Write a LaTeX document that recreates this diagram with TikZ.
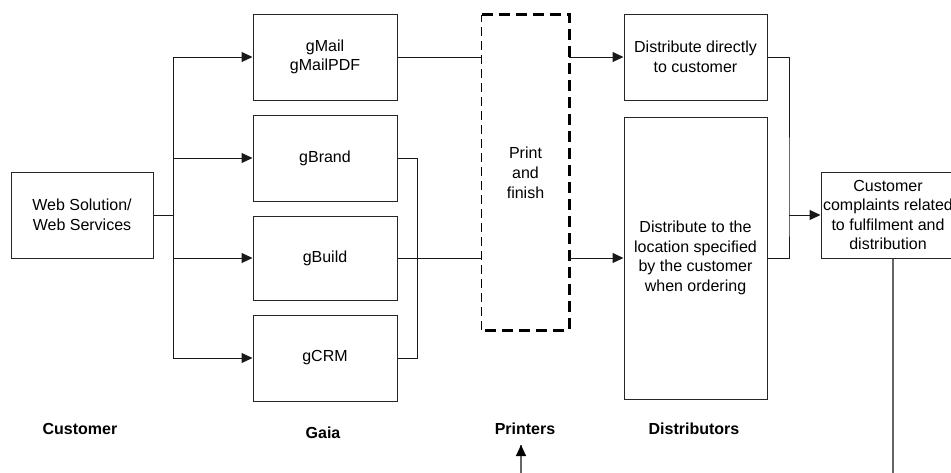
\documentclass[tikz,border=0pt]{standalone}
\usepackage{fontspec}
\setmainfont{Liberation Sans}
\usetikzlibrary{arrows.meta}

\begin{document}
\begin{tikzpicture}[x=1pt,y=-1pt,
  boxnode/.style={draw=black!85, line width=1pt, align=center, inner sep=0pt,
    font=\fontsize{16}{19.5}\selectfont},
  lbl/.style={font=\bfseries\fontsize{16}{19}\selectfont, inner sep=0pt},
  conn/.style={line width=1pt, draw=black!90},
  arr/.style={conn, -{Triangle[length=11pt,width=10pt]}},
  farconn/.style={line width=1.2pt, draw=black!60}
]
\useasboundingbox (0,0) rectangle (951,472);

% boxes
\node[boxnode, minimum width=142pt, minimum height=86pt] (web) at (82,215) {Web Solution/\\Web Services};
\node[boxnode, minimum width=144pt, minimum height=86pt] (gmail) at (325,57) {gMail\\gMailPDF};
\node[boxnode, minimum width=144pt, minimum height=86pt] (gbrand) at (325,158) {gBrand};
\node[boxnode, minimum width=144pt, minimum height=84pt] (gbuild) at (325,258) {gBuild};
\node[boxnode, minimum width=144pt, minimum height=86pt] (gcrm) at (325,358) {gCRM};
\node[align=center, inner sep=0pt, minimum width=87pt, minimum height=315pt,
      font=\fontsize{16}{20}\selectfont] (print) at (525.5,172.5) {Print\\and\\finish};
\draw[line width=3.2pt, dash pattern=on 11pt off 6pt]
  (print.north west) -- (print.north east) -- (print.south east) -- (print.south west);
\draw[line width=1.3pt, dash pattern=on 9pt off 5pt] (print.south west) -- (print.north west);
\node[boxnode, minimum width=143pt, minimum height=86pt] (dist1) at (695.5,57) {Distribute directly\\to customer};
\node[boxnode, minimum width=143pt, minimum height=282pt] (dist2) at (695.5,258) {Distribute to the\\location specified\\by the customer\\when ordering};
\node[boxnode, minimum width=134pt, minimum height=86pt] (compl) at (888,215) {Customer\\complaints related\\to fulfilment and\\distribution};

% labels
\node[lbl] (lcust) at (80,429) {Customer};
\node[lbl] (lgaia) at (323,433) {Gaia};
\node[lbl] (lprint) at (525,429) {Printers};
\node[lbl] (ldist) at (694,429) {Distributors};

% connectors
\coordinate (bus) at (173,215);
\draw[conn] (web.east) -- (bus);
\draw[arr] (bus) |- (gmail.west);
\draw[arr] (bus) |- (gbrand.west);
\draw[arr] (bus) |- (gbuild.west);
\draw[arr] (bus) |- (gcrm.west);

\coordinate (jB) at (417,158);
\draw[conn] (gbrand.east) -- (jB) |- (gcrm.east);

\draw[conn] (gmail.east) -- (gmail.east -| print.west);
\draw[conn] (gbuild.east) -- (gbuild.east -| print.west);

\draw[arr] (print.east |- dist1.west) -- (dist1.west);
\draw[arr] (print.east |- dist2.west) -- (dist2.west);

\coordinate (jD) at (789,215);
\draw[conn] (dist1.east) -| (jD) |- (dist2.east);
\draw[arr] (jD) -- (compl.west);

\coordinate (cEnd) at (893,480);
\draw[farconn] (compl.south -| cEnd) -- (cEnd);

\coordinate (pStart) at (521,480);
\coordinate (pTip) at (521,445);
\draw[farconn] (pStart) -- (pTip);
\draw[-{Triangle[length=11pt,width=10pt]}, black, line width=1pt] ([yshift=-1pt]pTip) -- (pTip);
\end{tikzpicture}
\end{document}
